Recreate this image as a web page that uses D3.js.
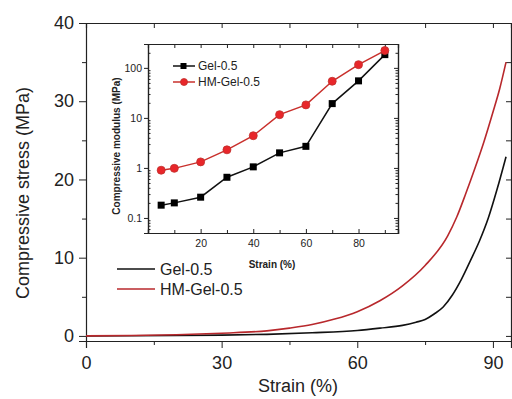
<!DOCTYPE html>
<html>
<head>
<meta charset="UTF-8">
<script src="https://d3js.org/d3.v7.min.js"></script>
<style>
  body { margin: 0; background: #fff; }
  svg { font-family: "Liberation Sans", Arial, sans-serif; display: block; }
  .axis path, .axis line { stroke: #222; }
</style>
</head>
<body>
<div id="chart"></div>
<script>
// main stress-strain curves (strain %, stress MPa)
const gelStrain = [0, 10, 20, 30, 40, 50, 60, 65, 70, 73, 75, 77, 79, 81, 83, 85, 87, 89, 91, 92.9];
const gelStress = [0, 0.02, 0.05, 0.1, 0.2, 0.4, 0.7, 1.0, 1.35, 1.75, 2.1, 2.8, 3.7, 5.2, 7.2, 9.6, 12.1, 15.1, 18.9, 22.9];
const hmStrain = [0, 10, 20, 30, 40, 45, 50, 55, 60, 65, 70, 75, 80, 82, 84, 86, 88, 90, 91.5, 92.9];
const hmStress = [0, 0.05, 0.15, 0.35, 0.65, 1.0, 1.45, 2.15, 3.1, 4.5, 6.4, 9.0, 12.8, 15.2, 18.2, 21.4, 24.8, 28.6, 31.6, 35.0];

// inset: modulus vs strain
const insetStrain = [5, 10, 20, 30, 40, 50, 60, 70, 80, 90];
const gelModulus = [0.18, 0.2, 0.26, 0.65, 1.05, 2.0, 2.7, 19.3, 55, 184];
const hmModulus = [0.9, 0.98, 1.32, 2.3, 4.4, 11.6, 18.2, 54, 116, 222];

const mainXTicks = [0, 30, 60, 90];
const mainXMinor = [15, 45, 75];
const mainYTicks = [0, 10, 20, 30, 40];
const mainYMinor = [5, 15, 25, 35];
const insetXTicks = [20, 40, 60, 80];
const insetXMinor = [10, 30, 50, 70, 90];
const insetYTicks = [0.1, 1, 10, 100];

const W = 512, H = 399;
const svg = d3.select("#chart").append("svg").attr("width", W).attr("height", H);

const x = d3.scaleLinear().domain([0, 94]).range([86, 511]);
const y = d3.scaleLinear().domain([-0.65, 40]).range([341, 23]);

// frame axes
svg.append("g").attr("class", "axis").attr("transform", "translate(0,341)")
  .call(d3.axisBottom(x).tickValues(mainXTicks).tickSize(7).tickPadding(8))
  .call(g => g.selectAll("text").attr("font-size", 18).attr("fill", "#222"));
svg.append("g").attr("class", "axis").attr("transform", "translate(0,341)")
  .call(d3.axisBottom(x).tickValues(mainXMinor).tickSize(4).tickFormat(""))
  .call(g => g.select(".domain").remove());
svg.append("g").attr("class", "axis").attr("transform", "translate(0,23)")
  .call(d3.axisTop(x).tickValues(mainXTicks.concat(mainXMinor)).tickSize(-5).tickFormat(""));
svg.append("g").attr("class", "axis").attr("transform", "translate(86,0)")
  .call(d3.axisLeft(y).tickValues(mainYTicks).tickSize(7).tickPadding(5))
  .call(g => g.selectAll("text").attr("font-size", 18).attr("fill", "#222"));
svg.append("g").attr("class", "axis").attr("transform", "translate(86,0)")
  .call(d3.axisLeft(y).tickValues(mainYMinor).tickSize(4).tickFormat(""))
  .call(g => g.select(".domain").remove());
svg.append("g").attr("class", "axis").attr("transform", "translate(511,0)")
  .call(d3.axisRight(y).tickValues(mainYTicks.concat(mainYMinor)).tickSize(-5).tickFormat(""));
svg.selectAll(".axis .domain").attr("stroke-width", 1.5);

// axis titles
svg.append("text").attr("x", 298).attr("y", 392).attr("text-anchor", "middle")
  .attr("font-size", 18).attr("fill", "#222").text("Strain (%)");
svg.append("text").attr("transform", "translate(29,193) rotate(-90)").attr("text-anchor", "middle")
  .attr("font-size", 18).attr("fill", "#222").text("Compressive stress (MPa)");

// curves
const line = d3.line().x(d => x(d[0])).y(d => y(d[1])).curve(d3.curveMonotoneX);
svg.append("path").datum(d3.zip(gelStrain, gelStress)).attr("d", line)
  .attr("fill", "none").attr("stroke", "#111").attr("stroke-width", 1.6);
svg.append("path").datum(d3.zip(hmStrain, hmStress)).attr("d", line)
  .attr("fill", "none").attr("stroke", "#b8282c").attr("stroke-width", 1.6);

// main legend
const mainLegend = [["Gel-0.5", "#111", 269], ["HM-Gel-0.5", "#b8282c", 289]];
mainLegend.forEach(([name, col, ly]) => {
  svg.append("line").attr("x1", 117).attr("x2", 155).attr("y1", ly).attr("y2", ly)
    .attr("stroke", col).attr("stroke-width", 1.6);
  svg.append("text").attr("x", 160).attr("y", ly + 6).attr("font-size", 16).attr("fill", "#222").text(name);
});

// inset
const ix = d3.scaleLinear().domain([0, 95]).range([148, 398]);
const iy = d3.scaleLog().domain([0.05, 300]).range([233, 44]);
svg.append("rect").attr("x", 148).attr("y", 44).attr("width", 250).attr("height", 189).attr("fill", "#fff");

const logMinor = [];
[0.01, 0.1, 1, 10, 100].forEach(d => { for (let k = 2; k <= 9; k++) { const v = d * k; if (v >= 0.05 && v <= 300) logMinor.push(v); } });

svg.append("g").attr("class", "axis").attr("transform", "translate(0,233)")
  .call(d3.axisBottom(ix).tickValues(insetXTicks).tickSize(-4).tickPadding(7))
  .call(g => g.selectAll("text").attr("font-size", 10.5).attr("fill", "#222"));
svg.append("g").attr("class", "axis").attr("transform", "translate(0,233)")
  .call(d3.axisBottom(ix).tickValues(insetXMinor).tickSize(-3).tickFormat(""));
svg.append("g").attr("class", "axis").attr("transform", "translate(0,44)")
  .call(d3.axisTop(ix).tickValues(insetXTicks.concat(insetXMinor)).tickSize(-4).tickFormat(""));
svg.append("g").attr("class", "axis").attr("transform", "translate(148,0)")
  .call(d3.axisLeft(iy).tickValues(insetYTicks).tickSize(4).tickPadding(2).tickFormat(d3.format("")))
  .call(g => g.selectAll("text").attr("font-size", 10.5).attr("fill", "#222"));
svg.append("g").attr("class", "axis").attr("transform", "translate(148,0)")
  .call(d3.axisLeft(iy).tickValues(logMinor).tickSize(-2.5).tickFormat(""));
svg.append("g").attr("class", "axis").attr("transform", "translate(398,0)")
  .call(d3.axisRight(iy).tickValues(insetYTicks).tickSize(-4).tickFormat(""));
svg.append("g").attr("class", "axis").attr("transform", "translate(398,0)")
  .call(d3.axisRight(iy).tickValues(logMinor).tickSize(-2.5).tickFormat(""));
svg.selectAll(".axis .domain").attr("stroke-width", 1.2);

svg.append("text").attr("x", 272).attr("y", 268).attr("text-anchor", "middle")
  .attr("font-size", 10).attr("font-weight", "bold").attr("fill", "#222").text("Strain (%)");
svg.append("text").attr("transform", "translate(120,146) rotate(-90)").attr("text-anchor", "middle")
  .attr("font-size", 10).attr("font-weight", "bold").attr("fill", "#222").text("Compressive modulus (MPa)");

const iline = d3.line().x(d => ix(d[0])).y(d => iy(d[1]));
svg.append("path").datum(d3.zip(insetStrain, gelModulus)).attr("d", iline)
  .attr("fill", "none").attr("stroke", "#111").attr("stroke-width", 1.5);
svg.append("path").datum(d3.zip(insetStrain, hmModulus)).attr("d", iline)
  .attr("fill", "none").attr("stroke", "#c9302c").attr("stroke-width", 1.5);
svg.selectAll(".sq").data(d3.zip(insetStrain, gelModulus)).enter().append("rect")
  .attr("x", d => ix(d[0]) - 3.5).attr("y", d => iy(d[1]) - 3.5)
  .attr("width", 7).attr("height", 7).attr("fill", "#000");
svg.selectAll(".ci").data(d3.zip(insetStrain, hmModulus)).enter().append("circle")
  .attr("cx", d => ix(d[0])).attr("cy", d => iy(d[1])).attr("r", 4)
  .attr("fill", "#e8262a").attr("stroke", "#c0302c").attr("stroke-width", 0.8);

// inset legend
svg.append("line").attr("x1", 173).attr("x2", 195).attr("y1", 66).attr("y2", 66).attr("stroke", "#111").attr("stroke-width", 1.5);
svg.append("rect").attr("x", 180.5).attr("y", 63).attr("width", 6).attr("height", 6).attr("fill", "#000");
svg.append("text").attr("x", 198).attr("y", 70).attr("font-size", 12).attr("fill", "#222").text("Gel-0.5");
svg.append("line").attr("x1", 173).attr("x2", 195).attr("y1", 82).attr("y2", 82).attr("stroke", "#c9302c").attr("stroke-width", 1.5);
svg.append("circle").attr("cx", 184).attr("cy", 82).attr("r", 3.5).attr("fill", "#e8262a").attr("stroke", "#c0302c").attr("stroke-width", 0.8);
svg.append("text").attr("x", 198).attr("y", 86).attr("font-size", 12).attr("fill", "#222").text("HM-Gel-0.5");
</script>
</body>
</html>
